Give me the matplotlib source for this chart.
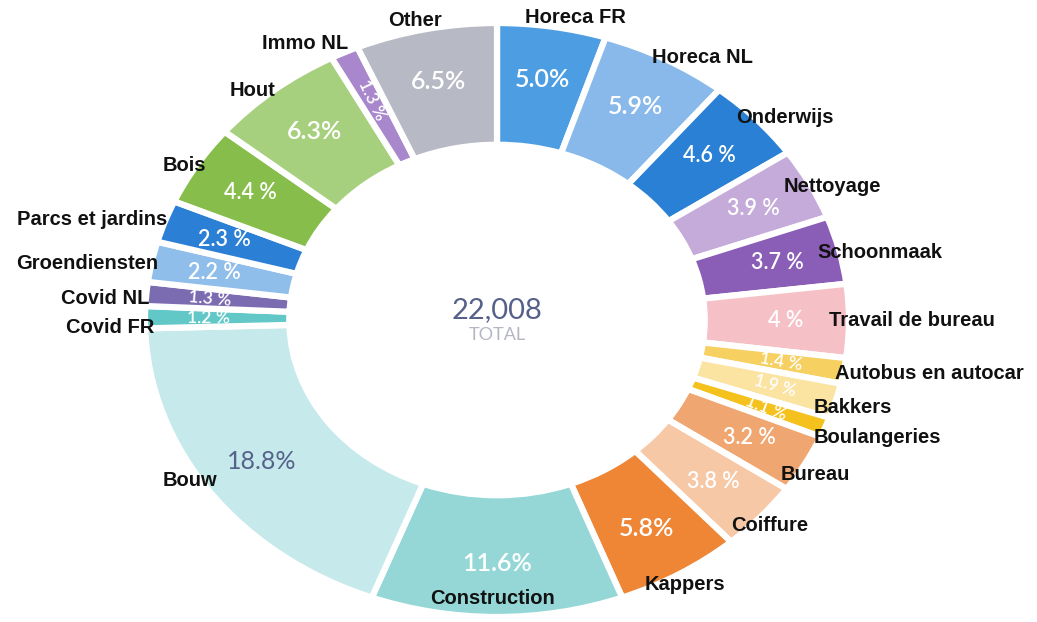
import numpy as np
import matplotlib
matplotlib.use("Agg")
import matplotlib.pyplot as plt

# data, clockwise from 12 o'clock
names = ["Horeca FR", "Horeca NL", "Onderwijs", "Nettoyage", "Schoonmaak",
         "Travail de bureau", "Autobus en autocar", "Bakkers", "Boulangeries",
         "Bureau", "Coiffure", "Kappers", "Construction", "Bouw", "Covid FR",
         "Covid NL", "Groendiensten", "Parcs et jardins", "Bois", "Hout",
         "Immo NL", "Other"]
shares = [5.0, 5.9, 4.6, 3.9, 3.7, 4.0, 1.4, 1.9, 1.1, 3.2, 3.8, 5.8, 11.6,
          18.8, 1.2, 1.3, 2.2, 2.3, 4.4, 6.3, 1.3, 6.5]
pct_text = ["5.0%", "5.9%", "4.6 %", "3.9 %", "3.7 %", "4 %", "1.4 %", "1.9 %",
            "1.1 %", "3.2 %", "3.8 %", "5.8%", "11.6%", "18.8%", "1.2 %",
            "1.3 %", "2.2 %", "2.3 %", "4.4 %", "6.3%", "1.3 %", "6.5%"]
total_text = "22,008"

colors = ["#4d9de3", "#88b9ea", "#2a80d5", "#c4abda", "#8a5db6", "#f6c1c6",
          "#f7d062", "#fbe3a2", "#f5c11c", "#f0a670", "#f6c8a6", "#ee8636",
          "#95d7d7", "#c6e9eb", "#62c7c7", "#7b6cb1", "#8fbeea", "#2b80d5",
          "#87bd4b", "#a7d07e", "#a887cd", "#b7b9c4"]

# label offsets from wedge outer midpoint, in pixels (x right, y down)
lab_off = [(23, -9), (37, -2), (29, -2), (23, 3), (41, 3), (63, 0), (86, 3),
           (17, 7), (52, 10), (10, 11), (9, 9), (5, 11), (-4, -19), (-20, -12),
           (-35, 10), (-41, 5), (-65, 2), (-73, -2), (-12, 0), (-21, 0),
           (-39, -9), (-11, -9)]

fig = plt.figure(figsize=(10.37, 6.22), dpi=100)
ax = fig.add_axes([0, 0, 1, 1])

wedges, _ = ax.pie(shares, colors=colors, startangle=90, counterclock=False,
                   radius=1.0,
                   wedgeprops=dict(width=0.41, edgecolor="white", linewidth=4.5))

ax.set_aspect("auto")
ax.set_xlim(-497 / 352, (1037 - 497) / 352)
ax.set_ylim(-302 / 297, 320 / 297)
ax.axis("off")

for w, name, txt, v, off in zip(wedges, names, pct_text, shares, lab_off):
    ang = (w.theta1 + w.theta2) / 2
    rad = np.deg2rad(ang)
    c, s = np.cos(rad), np.sin(rad)
    r = 0.82
    rot = 0
    if v < 2:
        rot = ang
        while rot > 90:
            rot -= 180
        while rot < -90:
            rot += 180
    if "%" in txt and " " not in txt:
        fs = 18
    elif v >= 2:
        fs = 15.5
    else:
        fs = 12.5
    col = "#56628a" if name == "Bouw" else "white"
    ax.text(r * c, r * s, txt, ha="center", va="center", fontsize=fs,
            color=col, rotation=rot, family=["Lato", "DejaVu Sans"],
            weight="semibold" if col == "white" else "normal")
    ax.annotate(name, xy=(c, s), xytext=(off[0], -off[1]),
                textcoords="offset pixels", ha="center", va="center",
                fontsize=14.5, weight="bold", color="#111111",
                family=["Liberation Sans", "DejaVu Sans"])

ax.text(0, 0.034, total_text, ha="center", va="center", fontsize=21,
        color="#56618a", family=["Lato", "DejaVu Sans"])
ax.text(0, -0.05, "TOTAL", ha="center", va="center", fontsize=13,
        color="#b4b7c2", family=["Lato", "DejaVu Sans"])

fig.savefig("out.png", dpi=100, facecolor="white")
